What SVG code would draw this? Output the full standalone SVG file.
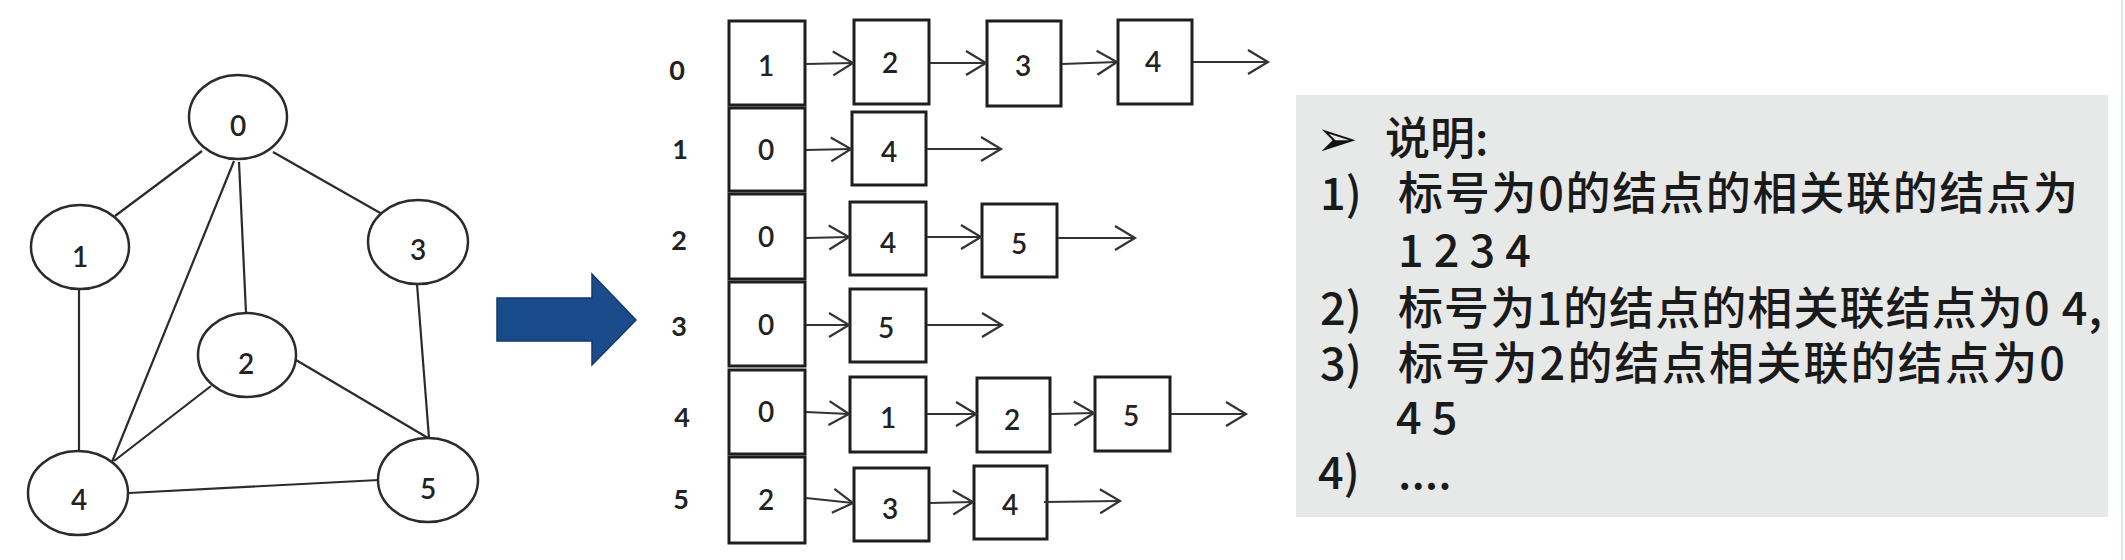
<svg xmlns="http://www.w3.org/2000/svg" width="2125" height="560" viewBox="0 0 2125 560">
<style>
.nd{fill:#fff;stroke:#2b2b2b;stroke-width:2.5}
.ed{stroke:#2b2b2b;stroke-width:2.2;fill:none}
.lb{font-family:Lato,"Liberation Sans",Arial,sans-serif;font-size:28px;font-weight:600;fill:#222;text-anchor:middle}
.bx{fill:#fff;stroke:#1e1e1e;stroke-width:3}
.ar{stroke:#333;stroke-width:2.2;fill:none;marker-end:url(#ah)}
.rl{font-family:Lato,"Liberation Sans",Arial,sans-serif;font-size:27px;font-weight:bold;fill:#222;text-anchor:middle}
.tx{font-family:"Noto Sans CJK SC","Liberation Sans",sans-serif;font-size:45px;font-weight:500;fill:#1a1a1a}
</style>
<defs>
<marker id="ah" markerUnits="userSpaceOnUse" markerWidth="26" markerHeight="30" viewBox="-22 -14 26 28" refX="0" refY="0" orient="auto">
<path d="M-20,-12 L0,0 L-20,12" fill="none" stroke="#333" stroke-width="2.2"/>
</marker>
</defs>
<rect width="2125" height="560" fill="#fff"/>

<g id="edges">
<line class="ed" x1="202" y1="151" x2="115" y2="216"/>
<line class="ed" x1="234" y1="161" x2="112" y2="462"/>
<line class="ed" x1="239" y1="162" x2="246" y2="313"/>
<line class="ed" x1="273" y1="152" x2="382" y2="214"/>
<line class="ed" x1="79" y1="290" x2="79" y2="451"/>
<line class="ed" x1="211" y1="386" x2="114" y2="461"/>
<line class="ed" x1="296" y1="360" x2="428" y2="438"/>
<line class="ed" x1="417" y1="284" x2="429" y2="438"/>
<line class="ed" x1="129" y1="493" x2="379" y2="480"/>
</g>

<g id="node-0"><ellipse class="nd" cx="238" cy="117" rx="49" ry="42"/><text class="lb" x="238" y="136">0</text></g>
<g id="node-1"><ellipse class="nd" cx="80" cy="247" rx="49" ry="42"/><text class="lb" x="80" y="267">1</text></g>
<g id="node-3"><ellipse class="nd" cx="418" cy="242" rx="50" ry="42"/><text class="lb" x="418" y="260">3</text></g>
<g id="node-2"><ellipse class="nd" cx="247" cy="355" rx="49" ry="42"/><text class="lb" x="246" y="374">2</text></g>
<g id="node-4"><ellipse class="nd" cx="78" cy="493" rx="50" ry="42"/><text class="lb" x="79" y="510">4</text></g>
<g id="node-5"><ellipse class="nd" cx="428" cy="480" rx="50" ry="42"/><text class="lb" x="428" y="499">5</text></g>

<g id="big-arrow">
<polygon points="497,298 592,298 592,274 636,320 592,365 592,341 497,341" fill="#1a4b8a" stroke="#123a6e" stroke-width="1.5"/>
</g>

<g id="row-labels">
<text class="rl" x="677" y="80">0</text>
<text class="rl" x="680" y="159">1</text>
<text class="rl" x="679" y="250">2</text>
<text class="rl" x="679" y="336">3</text>
<text class="rl" x="682" y="427">4</text>
<text class="rl" x="681" y="509">5</text>
</g>

<g id="head-0"><rect class="bx" x="729" y="21" width="76" height="84"/><text class="lb" x="766" y="76">1</text></g>
<g id="head-1"><rect class="bx" x="729" y="108" width="76" height="83"/><text class="lb" x="766" y="160">0</text></g>
<g id="head-2"><rect class="bx" x="729" y="194" width="76" height="85"/><text class="lb" x="766" y="247">0</text></g>
<g id="head-3"><rect class="bx" x="729" y="282" width="76" height="84"/><text class="lb" x="766" y="335">0</text></g>
<g id="head-4"><rect class="bx" x="729" y="370" width="76" height="84"/><text class="lb" x="766" y="422">0</text></g>
<g id="head-5"><rect class="bx" x="729" y="457" width="76" height="86"/><text class="lb" x="766" y="510">2</text></g>

<g id="r0-n2"><rect class="bx" x="854" y="20" width="75" height="84"/><text class="lb" x="890" y="73">2</text></g>
<g id="r0-n3"><rect class="bx" x="987" y="21" width="74" height="85"/><text class="lb" x="1023" y="76">3</text></g>
<g id="r0-n4"><rect class="bx" x="1118" y="20" width="74" height="84"/><text class="lb" x="1153" y="72">4</text></g>
<g id="r1-n4"><rect class="bx" x="852" y="112" width="74" height="73"/><text class="lb" x="889" y="162">4</text></g>
<g id="r2-n4"><rect class="bx" x="850" y="202" width="76" height="73"/><text class="lb" x="888" y="253">4</text></g>
<g id="r2-n5"><rect class="bx" x="982" y="204" width="75" height="73"/><text class="lb" x="1019" y="254">5</text></g>
<g id="r3-n5"><rect class="bx" x="850" y="289" width="76" height="73"/><text class="lb" x="886" y="338">5</text></g>
<g id="r4-n1"><rect class="bx" x="850" y="377" width="76" height="75"/><text class="lb" x="888" y="428">1</text></g>
<g id="r4-n2"><rect class="bx" x="977" y="378" width="73" height="74"/><text class="lb" x="1012" y="430">2</text></g>
<g id="r4-n5"><rect class="bx" x="1095" y="377" width="75" height="74"/><text class="lb" x="1131" y="426">5</text></g>
<g id="r5-n3"><rect class="bx" x="854" y="468" width="75" height="73"/><text class="lb" x="890" y="519">3</text></g>
<g id="r5-n4"><rect class="bx" x="974" y="466" width="73" height="73"/><text class="lb" x="1010" y="515">4</text></g>

<g id="list-arrows">
<line class="ar" x1="806" y1="64" x2="853" y2="63"/>
<line class="ar" x1="930" y1="63" x2="986" y2="63"/>
<line class="ar" x1="1062" y1="64" x2="1117" y2="62"/>
<line class="ar" x1="1193" y1="62" x2="1268" y2="62"/>
<line class="ar" x1="806" y1="150" x2="851" y2="149"/>
<line class="ar" x1="927" y1="149" x2="1001" y2="149"/>
<line class="ar" x1="806" y1="238" x2="849" y2="237"/>
<line class="ar" x1="927" y1="237" x2="981" y2="237"/>
<line class="ar" x1="1058" y1="238" x2="1135" y2="238"/>
<line class="ar" x1="806" y1="325" x2="849" y2="325"/>
<line class="ar" x1="927" y1="325" x2="1002" y2="325"/>
<line class="ar" x1="806" y1="412" x2="849" y2="414"/>
<line class="ar" x1="927" y1="414" x2="976" y2="414"/>
<line class="ar" x1="1051" y1="414" x2="1094" y2="413"/>
<line class="ar" x1="1171" y1="414" x2="1246" y2="414"/>
<line class="ar" x1="806" y1="498" x2="853" y2="503"/>
<line class="ar" x1="930" y1="503" x2="973" y2="502"/>
<line class="ar" x1="1044" y1="502" x2="1120" y2="501"/>
</g>

<g id="notes">
<rect x="1296" y="95" width="812" height="422" fill="#e7e8e8"/>
<line x1="2122" y1="0" x2="2122" y2="560" stroke="#d4ecf0" stroke-width="2"/>
<text x="1316" y="156" font-family="DejaVu Sans,sans-serif" font-size="50" fill="#111">➢</text>
<text class="tx" x="1385" y="155">说明:</text>
<text class="tx" x="1320" y="210">1)</text>
<text class="tx" x="1398" y="210" textLength="680" lengthAdjust="spacing">标号为0的结点的相关联的结点为</text>
<text class="tx" x="1398" y="267">1 2 3 4</text>
<text class="tx" x="1320" y="325">2)</text>
<text class="tx" x="1398" y="325" textLength="704" lengthAdjust="spacing">标号为1的结点的相关联结点为0 4,</text>
<text class="tx" x="1320" y="380">3)</text>
<text class="tx" x="1398" y="380" textLength="667" lengthAdjust="spacing">标号为2的结点相关联的结点为0</text>
<text class="tx" x="1396" y="434">4 5</text>
<text class="tx" x="1318" y="489">4)</text>
<text class="tx" x="1398" y="489">....</text>
</g>
</svg>
